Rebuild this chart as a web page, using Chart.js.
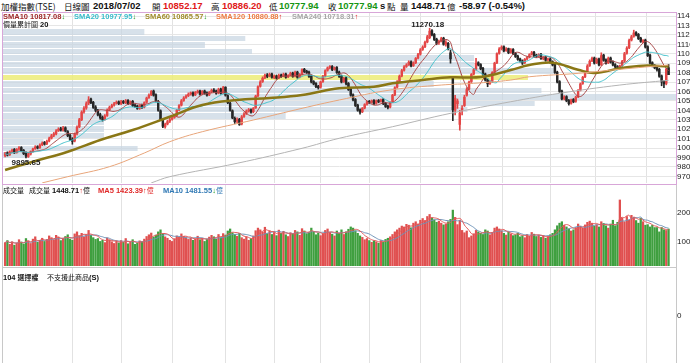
<!DOCTYPE html>
<html>
<head>
<meta charset="utf-8">
<script src="https://cdn.jsdelivr.net/npm/chart.js@4.4.0/dist/chart.umd.min.js"></script>
<style>
  html, body { margin: 0; padding: 0; background: #fff; width: 690px; height: 363px; overflow: hidden; }
  body { position: relative; font-family: 'Liberation Sans', 'Noto Sans CJK TC', sans-serif; color: #111; }
  .t { position: absolute; white-space: nowrap; line-height: 10px; }
  .hd { font-size: 8.5px; font-family: 'Noto Sans CJK TC', sans-serif; }
  .hn { font-size: 9.5px; font-weight: bold; }
  .lg { font-size: 7.5px; font-weight: bold; line-height: 9px; }
  .cj { font-family: 'Noto Sans CJK TC', sans-serif; font-weight: normal; font-size: 7px; }
  .up { color: #e01818; }
  .dn { color: #149614; }
  canvas { position: absolute; }
  .box { position: absolute; box-sizing: border-box; pointer-events: none; }
</style>
</head>
<body>

<!-- header -->
<div class="t hd" style="left:1px;top:1px">加權指數(TSE)</div>
<div class="t hd" style="left:64px;top:1px">日線圖</div>
<div class="t hn" style="left:93px;top:1px">2018/07/02</div>
<div class="t hd" style="left:152px;top:1px">開</div>
<div class="t hn up" id="hOpen" style="left:163px;top:1px"></div>
<div class="t hd" style="left:211px;top:1px">高</div>
<div class="t hn up" id="hHigh" style="left:222px;top:1px"></div>
<div class="t hd" style="left:269px;top:1px">低</div>
<div class="t hn dn" id="hLow" style="left:279px;top:1px"></div>
<div class="t hd" style="left:328px;top:1px">收</div>
<div class="t hn dn" id="hClose" style="left:338px;top:1px"></div>
<div class="t hn" style="left:380px;top:1px">s</div>
<div class="t hd" style="left:387px;top:1px">點</div>
<div class="t hd" style="left:400px;top:1px">量</div>
<div class="t hn" id="hVol" style="left:411px;top:1px"></div>
<div class="t hd" style="left:447px;top:1px">億</div>
<div class="t hn" id="hChg" style="left:459px;top:1px"></div>

<canvas id="mainChart" width="717" height="170" style="left:3px;top:13px"></canvas>
<canvas id="volChart" width="717" height="81" style="left:3px;top:185px"></canvas>
<canvas id="optChart" width="717" height="95" style="left:3px;top:268px"></canvas>

<div class="box" style="left:2px;top:12px;width:675px;height:173px;border:1px solid #d8a6d8"></div>
<div class="box" style="left:2px;top:185px;width:675px;height:83px;border-left:1px solid #c8c8c8;border-right:1px solid #c8c8c8;border-bottom:1px solid #c8c8c8"></div>
<div class="box" style="left:2px;top:267px;width:675px;height:100px;border:1px solid #c8c8c8"></div>

<!-- legends -->
<div class="t lg" style="left:3px;top:12px;color:#a0282a">SMA10 10817.08<span class="dn">↓</span></div>
<div class="t lg" style="left:74px;top:12px;color:#38bccb">SMA20 10977.95<span class="dn">↓</span></div>
<div class="t lg" style="left:145px;top:12px;color:#a08c2c">SMA60 10865.57<span class="dn">↓</span></div>
<div class="t lg" style="left:216px;top:12px;color:#ee7a40">SMA120 10880.88<span class="up">↑</span></div>
<div class="t lg" style="left:292px;top:12px;color:#a6a6a6">SMA240 10718.31<span class="up">↑</span></div>
<div class="t lg" style="left:3px;top:20px"><span class="cj">價量累計圖</span> 20</div>

<div class="t lg" style="left:3px;top:186px"><span class="cj">成交量</span></div>
<div class="t lg" style="left:29px;top:186px"><span class="cj">成交量</span> 1448.71<span class="up">↑</span><span class="cj">億</span></div>
<div class="t lg" style="left:98px;top:186px;color:#e02828">MA5 1423.39<span class="up">↑</span><span class="cj">億</span></div>
<div class="t lg" style="left:163px;top:186px;color:#2f78b4">MA10 1481.55<span class="dn">↓</span><span class="cj">億</span></div>

<div class="t lg" style="left:3px;top:273px">104 <span class="cj" style="font-weight:bold">選擇權</span></div>
<div class="t lg" style="left:47px;top:273px"><span class="cj">不支援此商品</span>(S)</div>

<script>
// daily candles, 加權指數 (oldest first, last = 2018/07/02)
const opens = [
  9920, 9950, 9930, 9965, 9985, 9955, 9990, 10005, 9975, 9950,
  9910, 9935, 9965, 9995, 10015, 10005, 10035, 10060, 10045, 10075,
  10105, 10135, 10150, 10185, 10205, 10190, 10215, 10175, 10135, 10095,
  10075, 10155, 10225, 10300, 10385, 10425, 10475, 10520, 10485, 10435,
  10395, 10355, 10325, 10305, 10345, 10405, 10435, 10455, 10475, 10490,
  10470, 10495, 10480, 10505, 10470, 10495, 10455, 10445, 10420, 10455,
  10435, 10485, 10535, 10565, 10605, 10565, 10495, 10395, 10300, 10225,
  10255, 10285, 10305, 10325, 10345, 10405, 10455, 10505, 10535, 10555,
  10575, 10585, 10565, 10590, 10605, 10575, 10605, 10585, 10565, 10595,
  10615, 10605, 10585, 10625, 10585, 10645, 10555, 10475, 10395, 10315,
  10285, 10305, 10255, 10335, 10365, 10395, 10405, 10385, 10425, 10555,
  10655, 10705, 10745, 10775, 10765, 10785, 10745, 10765, 10745, 10775,
  10765, 10785, 10755, 10775, 10795, 10765, 10805, 10755, 10785, 10835,
  10815, 10805, 10765, 10705, 10685, 10655, 10645, 10705, 10765, 10825,
  10855, 10865, 10835, 10855, 10805, 10765, 10705, 10745, 10685, 10625,
  10565, 10515, 10455, 10405, 10385, 10425, 10465, 10495, 10485, 10505,
  10475, 10505, 10495, 10515, 10475, 10445, 10435, 10485, 10565, 10645,
  10705, 10765, 10825, 10865, 10885, 10915, 10875, 10905, 10955, 10995,
  11045, 11075, 11125, 11170, 11245, 11205, 11155, 11115, 11135, 11165,
  11100, 11110, 11010, 10740, 10400, 10470, 10250, 10400, 10450, 10560,
  10625, 10705, 10785, 10835, 10905, 10885, 10845, 10785, 10725, 10685,
  10705, 10805, 10905, 11005, 11055, 11075, 11035, 11055, 11015, 11045,
  11005, 10975, 10945, 10925, 10905, 10945, 10965, 10995, 11015, 10985,
  10975, 10995, 10945, 10965, 10935, 10945, 10915, 10885, 10805, 10705,
  10605, 10525, 10545, 10505, 10475, 10515, 10495, 10545, 10615, 10685,
  10755, 10805, 10875, 10925, 10955, 10905, 10945, 10885, 10985, 10935,
  10905, 10955, 10915, 10885, 10865, 10845, 10875, 10925, 11005, 11065,
  11145, 11185, 11225, 11205, 11165, 11125, 11145, 11075, 10985, 10905,
  10875, 10855, 10835, 10765, 10705, 10685, 10852.17
];
const highs = [
  9955, 9960, 9970, 9990, 9995, 9995, 10015, 10015, 9985, 9960,
  9945, 9970, 10000, 10025, 10025, 10045, 10065, 10070, 10085, 10115,
  10145, 10165, 10195, 10215, 10220, 10230, 10225, 10185, 10145, 10110,
  10160, 10235, 10315, 10395, 10440, 10490, 10545, 10530, 10495, 10450,
  10410, 10370, 10340, 10355, 10415, 10445, 10465, 10485, 10500, 10500,
  10505, 10505, 10515, 10515, 10500, 10505, 10465, 10455, 10460, 10465,
  10490, 10540, 10575, 10610, 10615, 10575, 10505, 10405, 10310, 10265,
  10295, 10315, 10335, 10355, 10410, 10460, 10515, 10545, 10565, 10585,
  10595, 10595, 10600, 10615, 10615, 10610, 10615, 10595, 10600, 10625,
  10630, 10615, 10635, 10635, 10655, 10650, 10565, 10485, 10405, 10330,
  10320, 10315, 10345, 10375, 10405, 10420, 10415, 10430, 10560, 10660,
  10715, 10755, 10785, 10790, 10795, 10795, 10775, 10775, 10785, 10785,
  10795, 10795, 10780, 10805, 10805, 10815, 10815, 10790, 10840, 10845,
  10825, 10815, 10775, 10715, 10695, 10665, 10710, 10770, 10830, 10860,
  10875, 10875, 10860, 10865, 10815, 10775, 10750, 10755, 10695, 10635,
  10575, 10525, 10465, 10415, 10430, 10470, 10500, 10505, 10510, 10515,
  10510, 10515, 10520, 10525, 10485, 10455, 10490, 10570, 10650, 10715,
  10775, 10835, 10875, 10895, 10925, 10925, 10915, 10960, 11005, 11055,
  11085, 11135, 11195, 11270.18, 11255, 11215, 11165, 11145, 11175, 11175,
  11140, 11120, 11040, 10760, 10560, 10520, 10400, 10450, 10560, 10640,
  10710, 10790, 10845, 10950, 10915, 10895, 10855, 10795, 10735, 10715,
  10810, 10910, 11010, 11065, 11085, 11085, 11065, 11060, 11055, 11055,
  11015, 10985, 10955, 10935, 10950, 10970, 11000, 11025, 11025, 10995,
  11000, 11005, 10970, 10975, 10950, 10955, 10925, 10895, 10815, 10715,
  10615, 10555, 10555, 10515, 10520, 10525, 10550, 10620, 10690, 10760,
  10815, 10885, 10935, 10965, 10965, 10955, 10955, 11010, 10995, 10945,
  10965, 10965, 10925, 10895, 10875, 10880, 10930, 11015, 11075, 11155,
  11195, 11250, 11235, 11215, 11175, 11150, 11155, 11085, 10995, 10915,
  10885, 10870, 10845, 10775, 10715, 10845, 10886.20
];
const lows = [
  9905, 9915, 9920, 9950, 9940, 9945, 9975, 9960, 9930, 9895.65,
  9900, 9925, 9955, 9985, 9990, 9995, 10025, 10030, 10035, 10065,
  10095, 10120, 10140, 10175, 10180, 10180, 10170, 10120, 10080, 10040,
  10065, 10140, 10215, 10290, 10370, 10410, 10460, 10470, 10420, 10385,
  10340, 10305, 10285, 10295, 10335, 10395, 10425, 10445, 10465, 10460,
  10460, 10470, 10470, 10460, 10460, 10440, 10430, 10410, 10410, 10420,
  10425, 10475, 10525, 10555, 10550, 10490, 10390, 10290, 10215, 10210,
  10245, 10270, 10295, 10315, 10335, 10395, 10445, 10495, 10525, 10545,
  10560, 10550, 10555, 10580, 10560, 10565, 10570, 10550, 10555, 10585,
  10590, 10570, 10575, 10570, 10575, 10550, 10470, 10390, 10310, 10260,
  10265, 10240, 10245, 10325, 10355, 10380, 10370, 10375, 10420, 10545,
  10645, 10695, 10735, 10745, 10755, 10740, 10735, 10730, 10735, 10750,
  10755, 10740, 10745, 10765, 10750, 10755, 10740, 10745, 10775, 10800,
  10790, 10750, 10690, 10670, 10640, 10625, 10635, 10695, 10755, 10815,
  10840, 10820, 10825, 10790, 10750, 10690, 10695, 10670, 10610, 10550,
  10500, 10440, 10390, 10360, 10375, 10415, 10455, 10470, 10475, 10460,
  10465, 10480, 10485, 10460, 10430, 10415, 10425, 10480, 10555, 10635,
  10695, 10755, 10815, 10855, 10875, 10860, 10865, 10895, 10945, 10985,
  11035, 11065, 11115, 11160, 11190, 11140, 11095, 11100, 11125, 11090,
  11080, 11040, 10900, 10290, 10350, 10420, 10189, 10350, 10440, 10550,
  10615, 10695, 10775, 10825, 10870, 10830, 10770, 10710, 10650, 10675,
  10695, 10795, 10895, 10995, 11040, 11020, 11025, 11000, 11005, 10990,
  10960, 10930, 10910, 10885, 10895, 10935, 10955, 10985, 10970, 10960,
  10965, 10940, 10935, 10920, 10925, 10900, 10870, 10790, 10690, 10590,
  10510, 10510, 10490, 10455, 10465, 10480, 10485, 10535, 10605, 10675,
  10745, 10795, 10865, 10915, 10890, 10895, 10870, 10875, 10920, 10890,
  10895, 10900, 10870, 10850, 10830, 10835, 10865, 10915, 10995, 11055,
  11135, 11175, 11190, 11150, 11120, 11115, 11060, 10970, 10890, 10860,
  10840, 10815, 10750, 10660, 10640, 10670, 10777.94
];
const closes = [
  9940, 9925, 9960, 9975, 9950, 9985, 10000, 9970, 9940, 9915,
  9930, 9960, 9990, 10010, 10000, 10030, 10050, 10040, 10070, 10100,
  10130, 10150, 10180, 10200, 10190, 10210, 10180, 10130, 10090, 10070,
  10150, 10220, 10300, 10380, 10420, 10470, 10510, 10480, 10430, 10400,
  10350, 10320, 10300, 10340, 10400, 10430, 10450, 10470, 10480, 10470,
  10490, 10480, 10500, 10470, 10490, 10450, 10440, 10420, 10450, 10430,
  10480, 10530, 10560, 10600, 10560, 10500, 10400, 10300, 10230, 10250,
  10280, 10300, 10320, 10340, 10400, 10450, 10500, 10530, 10550, 10570,
  10580, 10560, 10590, 10600, 10570, 10600, 10580, 10560, 10590, 10610,
  10600, 10580, 10620, 10580, 10640, 10560, 10480, 10400, 10320, 10280,
  10300, 10250, 10330, 10360, 10390, 10400, 10380, 10420, 10550, 10650,
  10700, 10740, 10770, 10760, 10780, 10750, 10760, 10740, 10770, 10760,
  10780, 10750, 10770, 10790, 10760, 10800, 10750, 10780, 10830, 10810,
  10800, 10760, 10700, 10680, 10650, 10640, 10700, 10760, 10820, 10850,
  10860, 10830, 10850, 10800, 10760, 10700, 10740, 10680, 10620, 10560,
  10510, 10450, 10400, 10380, 10420, 10460, 10490, 10480, 10500, 10470,
  10500, 10490, 10510, 10470, 10440, 10430, 10480, 10560, 10640, 10700,
  10760, 10820, 10860, 10880, 10910, 10870, 10900, 10950, 10990, 11040,
  11070, 11120, 11180, 11240, 11200, 11150, 11110, 11130, 11160, 11100,
  11120, 11050, 10946, 10404, 10528, 10500, 10370, 10421, 10540, 10620,
  10700, 10780, 10830, 10900, 10880, 10840, 10780, 10720, 10680, 10700,
  10800, 10900, 11000, 11050, 11070, 11030, 11050, 11010, 11040, 11000,
  10970, 10940, 10920, 10900, 10940, 10960, 10990, 11010, 10980, 10970,
  10990, 10950, 10960, 10930, 10940, 10910, 10880, 10800, 10700, 10600,
  10520, 10540, 10500, 10470, 10510, 10490, 10540, 10610, 10680, 10750,
  10800, 10870, 10920, 10950, 10900, 10940, 10880, 10980, 10930, 10900,
  10950, 10910, 10880, 10860, 10840, 10870, 10920, 11000, 11060, 11140,
  11180, 11220, 11200, 11160, 11130, 11140, 11070, 10980, 10900, 10870,
  10850, 10830, 10760, 10700, 10680, 10836.91, 10777.94
];
// 成交量 (億)
const volumes = [
  980, 1050, 920, 1010, 890, 960, 1080, 1000, 930, 1120,
  1040, 950, 1100, 1180, 990, 1060, 1130, 1020, 1090, 1210,
  1150, 1080, 1230, 1170, 1050, 1120, 1190, 1250, 1100, 1060,
  1280, 1350, 1220, 1300, 1180, 1260, 1400, 1230, 1150, 1090,
  1120, 1020, 1060, 980, 1140, 1080, 1010, 950, 1030, 970,
  1050, 990, 1120, 940, 1000, 1080, 920, 960, 1040, 1010,
  1100, 1190, 1250, 1310, 1170, 1240, 1350, 1420, 1280, 1180,
  1130, 1060, 1020, 1110, 1210, 1160, 1280, 1200, 1150, 1090,
  1140, 1060, 1110, 1200, 1080, 1130, 1020, 1090, 1170, 1230,
  1180, 1100, 1260, 1150, 1290, 1240, 1380, 1450, 1320, 1260,
  1200, 1300, 1150, 1100, 1180, 1060, 1120, 1210, 1390, 1480,
  1420, 1350, 1510, 1290, 1380, 1260, 1330, 1220, 1410, 1300,
  1370, 1250, 1190, 1320, 1280, 1400, 1350, 1230, 1460, 1380,
  1290, 1340, 1480, 1360, 1250, 1310, 1220, 1290, 1400, 1450,
  1330, 1270, 1210, 1380, 1300, 1420, 1260, 1350, 1440, 1520,
  1480, 1390, 1300, 1210, 1160, 1080, 1120, 1050, 990, 1040,
  1010, 960, 1050, 1000, 1090, 1130, 1180, 1260, 1350, 1420,
  1480, 1550, 1520, 1610, 1580, 1490, 1650, 1700, 1620, 1750,
  1810, 1740, 1880, 1950, 1830, 1760, 1680, 1720, 1650, 1590,
  1620, 1700, 1780, 2100, 1850, 1600, 1750, 1400, 1320, 1380,
  1150, 1210, 1280, 1400, 1350, 1300, 1260, 1420, 1380, 1250,
  1330, 1480, 1520, 1450, 1390, 1300, 1240, 1350, 1280, 1220,
  1250, 1300, 1180, 1220, 1150, 1260, 1200, 1330, 1270, 1190,
  1240, 1160, 1220, 1130, 1180, 1250, 1300, 1420, 1560, 1650,
  1700, 1580, 1520, 1450, 1380, 1420, 1500, 1620, 1550, 1480,
  1590, 1680, 1720, 1650, 1550, 1600, 1520, 1700, 1640, 1560,
  1480, 1620, 1750, 1560, 1680, 2450, 1820, 1700, 1880, 1750,
  1920, 1860, 1740, 1650, 1820, 1700, 1580, 1600, 1520, 1580,
  1498.55, 1500, 1349.56, 1500, 1420, 1398.68, 1448.71
];

// long moving averages: [candle index, value]
const sma60Pts = [[0, 9767], [12, 9855], [27, 9961], [41, 10085], [55, 10191], [71, 10332],
  [85, 10456], [100, 10509], [114, 10530], [128, 10562], [144, 10633], [159, 10650],
  [167, 10686], [180, 10721], [192, 10750], [205, 10752], [218, 10827], [226, 10880],
  [236, 10905], [247, 10830], [254, 10795], [265, 10845], [275, 10873], [286, 10865.57]];
const sma120Pts = [[16, 9630], [27, 9696], [45, 9802], [60, 9947], [71, 10067], [85, 10173],
  [107, 10297], [128, 10421], [144, 10509], [166, 10615], [188, 10668], [202, 10686],
  [218, 10721], [226, 10756], [247, 10792], [265, 10835], [286, 10880.88]];
const sma240Pts = [[63, 9630], [71, 9696], [100, 9838], [128, 9997], [144, 10103], [167, 10226],
  [192, 10368], [218, 10491], [239, 10580], [265, 10668], [286, 10718.31]];

// 價量累計圖 20: share of traded volume per price bin, top bin first
const profileShare = [0.21, 0.36, 0.30, 0.37, 0.70, 0.70, 0.82, 0.78, 0.64, 0.80,
  1.00, 0.79, 0.69, 0.42, 0.15, 0.15, 0.15, 0.06, 0.20, 0.04];

// first candle of each month (grid lines)
const monthStart = [40, 61, 84, 107, 126, 147, 168, 191, 203, 227, 244, 266];
const priceTicks = [9700, 9800, 9900, 10000, 10100, 10200, 10300, 10400, 10500, 10600,
  10700, 10800, 10900, 11000, 11100, 11200, 11300, 11400];
const volTicks = [1000, 2000];
const optTicks = [0];

const X_MIN = -0.9, X_MAX = 289.2;
const UP = '#e44646', DOWN = '#262626';
const n = closes.length;
const idx = closes.map((_, i) => i);

function movingAvg(arr, len) {
  return arr.map((_, i) => {
    const part = arr.slice(Math.max(0, i - len + 1), i + 1);
    return part.reduce((a, b) => a + b, 0) / part.length;
  });
}

// header numbers from the last candle
document.getElementById('hOpen').textContent = opens[n - 1].toFixed(2);
document.getElementById('hHigh').textContent = highs[n - 1].toFixed(2);
document.getElementById('hLow').textContent = lows[n - 1].toFixed(2);
document.getElementById('hClose').textContent = closes[n - 1].toFixed(2);
document.getElementById('hVol').textContent = volumes[n - 1].toFixed(2);
const chg = closes[n - 1] - closes[n - 2];
document.getElementById('hChg').textContent = chg.toFixed(2) + ' (' + (chg / closes[n - 2] * 100).toFixed(2) + '%)';

const profileHigh = Math.max(...highs);
const profileLow = Math.min(...lows);

const profilePlugin = {
  id: 'profile',
  beforeDatasetsDraw(chart) {
    const { ctx, chartArea, scales: { y } } = chart;
    const bin = (profileHigh - profileLow) / profileShare.length;
    const last = closes[n - 1];
    ctx.save();
    profileShare.forEach((share, k) => {
      const top = profileHigh - k * bin, bot = top - bin;
      const y1 = y.getPixelForValue(top), y2 = y.getPixelForValue(bot);
      ctx.fillStyle = (last <= top && last > bot) ? 'rgba(236,236,120,0.85)' : 'rgba(200,214,226,0.72)';
      ctx.fillRect(chartArea.left, Math.round(y1) + 1, share * chartArea.width, Math.round(y2) - Math.round(y1) - 1);
    });
    ctx.restore();
  }
};

const extremePlugin = {
  id: 'extremes',
  afterDatasetsDraw(chart) {
    const { ctx, scales: { x, y } } = chart;
    const hi = highs.indexOf(profileHigh), lo = lows.indexOf(profileLow);
    ctx.save();
    ctx.font = 'bold 8px "Liberation Sans"';
    ctx.fillStyle = '#222';
    ctx.textAlign = 'center';
    ctx.textBaseline = 'bottom';
    ctx.fillText(profileHigh.toFixed(2), x.getPixelForValue(hi) - 2, y.getPixelForValue(profileHigh) + 1);
    ctx.textBaseline = 'top';
    ctx.fillText(profileLow.toFixed(2), x.getPixelForValue(lo), y.getPixelForValue(profileLow) + 1);
    ctx.restore();
  }
};

function xScale() {
  return {
    type: 'linear', min: X_MIN, max: X_MAX, offset: false,
    ticks: { display: false },
    border: { display: false },
    grid: { color: '#e2e2e2', drawTicks: false },
    afterBuildTicks: s => { s.ticks = monthStart.map(i => ({ value: i - 0.5 })); }
  };
}

function yScale(min, max, ticks, showGrid) {
  return {
    position: 'right', min: min, max: max,
    afterBuildTicks: s => { s.ticks = ticks.map(v => ({ value: v })); },
    afterFit: s => { s.width = 44; s.paddingTop = 0; s.paddingBottom = 0; },
    border: { display: false },
    grid: { display: showGrid, color: '#e6e6e6', drawTicks: false },
    ticks: { padding: 1, color: '#222', autoSkip: false, font: { family: 'Liberation Sans', size: 8 }, callback: v => String(v) }
  };
}

const baseOpts = {
  responsive: false,
  animation: false,
  devicePixelRatio: 1,
  layout: { padding: 0 },
  plugins: { legend: { display: false }, tooltip: { enabled: false } }
};

const candleColor = idx.map(i => closes[i] >= opens[i] ? UP : DOWN);
const lineDs = (label, data, color, width) => ({
  type: 'line', label: label, data: data, borderColor: color, borderWidth: width,
  pointRadius: 0, tension: 0.4, order: 0
});

new Chart(document.getElementById('mainChart'), {
  type: 'bar',
  data: {
    datasets: [
      lineDs('SMA240', sma240Pts.map(p => ({ x: p[0], y: p[1] })), '#b4b4b4', 1),
      lineDs('SMA120', sma120Pts.map(p => ({ x: p[0], y: p[1] })), '#e8a57a', 1),
      lineDs('SMA60', sma60Pts.map(p => ({ x: p[0], y: p[1] })), '#8a7716', 2.5),
      lineDs('SMA20', movingAvg(closes, 20).map((v, i) => ({ x: i, y: v })), '#46c2cc', 1),
      lineDs('SMA10', movingAvg(closes, 10).map((v, i) => ({ x: i, y: v })), '#a84848', 1),
      {
        label: 'wick', data: idx.map(i => ({ x: i, y: [lows[i], highs[i]] })),
        backgroundColor: candleColor, barThickness: 1, grouped: false, order: 3
      },
      {
        label: 'body', data: idx.map(i => ({ x: i, y: [opens[i], closes[i]] })),
        backgroundColor: candleColor, barThickness: 1.8, minBarLength: 1, grouped: false, order: 2
      }
    ]
  },
  options: Object.assign({}, baseOpts, {
    scales: { x: xScale(), y: yScale(9629, 11432, priceTicks, true) }
  }),
  plugins: [profilePlugin, extremePlugin]
});

const volColor = idx.map(i => closes[i] >= opens[i] ? '#e05050' : '#3f9f3f');
new Chart(document.getElementById('volChart'), {
  type: 'bar',
  data: {
    datasets: [
      lineDs('MA5', movingAvg(volumes, 5).map((v, i) => ({ x: i, y: v })), '#e25a5a', 1),
      lineDs('MA10', movingAvg(volumes, 10).map((v, i) => ({ x: i, y: v })), '#6f93b8', 1),
      {
        label: 'vol', data: idx.map(i => ({ x: i, y: volumes[i] })),
        backgroundColor: volColor, barThickness: 1.6, grouped: false, order: 2
      }
    ]
  },
  options: Object.assign({}, baseOpts, {
    scales: { x: xScale(), y: yScale(173, 2966, volTicks, false) }
  })
});

new Chart(document.getElementById('optChart'), {
  type: 'bar',
  data: { datasets: [] },
  options: Object.assign({}, baseOpts, {
    scales: { x: xScale(), y: yScale(-1, 1, optTicks, false) }
  })
});
</script>
</body>
</html>
